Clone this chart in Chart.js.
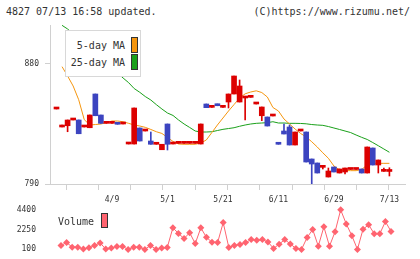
<!DOCTYPE html>
<html lang="ja">
<head>
<meta charset="UTF-8">
<title>4827 chart</title>
<script src="https://cdn.jsdelivr.net/npm/chart.js"></script>
<style>
    body {
        margin: 0;
        background: #fff;
        width: 420px;
        height: 259px;
        position: relative;
        overflow: hidden;
        font-family: 'DejaVu Sans Mono', monospace;
        color: #333;
    }
    #main { position: absolute; left: 0; top: 0; }
    #vol { position: absolute; left: 0; top: 195px; }
    .hdr { position: absolute; top: 5px; font-size: 10px; line-height: 14px; white-space: nowrap; }
    .legend {
        position: absolute; left: 65px; top: 30px;
        width: 74px; height: 45px;
        border: 1px solid #d8d8d8; background: #fff;
    }
    .legend span, .vlabel { position: absolute; font-size: 10px; line-height: 14px; white-space: nowrap; }
    .sw { position: absolute; width: 5px; height: 14px; border: 1px solid #333; }
</style>
</head>
<body>
<div class="hdr" style="left:6px">4827 07/13 16:58 updated.</div>
<div class="hdr" style="right:10px">(C)https://www.rizumu.net/</div>

<canvas id="main" width="420" height="210"></canvas>
<canvas id="vol" width="420" height="64"></canvas>

<div class="legend">
    <span style="right:15px; top:8px">5-day MA</span>
    <div class="sw" style="left:65px; top:6px; background:#f5960f"></div>
    <span style="right:15px; top:25px">25-day MA</span>
    <div class="sw" style="left:65px; top:23px; background:#1aa01a"></div>
</div>
<div class="vlabel" style="left:58px; top:215px">Volume</div>
<div class="sw" style="left:101px; top:213px; height:13px; background:#ff6470"></div>

<script>
    // 日付ラベル (ローソク足のインデックス位置)
    const dateLabels = ['4/9', '5/1', '5/21', '6/11', '6/29', '7/13'];
    const labelIdx = [10, 20, 30, 40, 50, 60];
    const priceTicks = [790, 880];
    const volumeTicks = [100, 2250, 4400];

    // 四本値
    const openP = [846.25, 832.75, 833.7, 838, 838, 832.75, 832.2, 857.5, 841.75, 835.5,
        835.5, 836, 835, 820, 820, 832, 829.75, 822.25, 819.8, 815.7,
        835, 820, 820.5, 820.5, 820.5, 820.5, 820, 850, 847.5, 850,
        847.5, 851.5, 857.5, 851.5, 854.5, 855, 850, 841.2, 840.25, 841,
        821, 829.75, 832.75, 819.25, 829.75, 829, 808.75, 805.75, 802.5, 795.25,
        802.75, 798.25, 799, 800.9, 800.9, 801.25, 798.25, 817, 804.25, 799.5,
        799.4];
    const highP = [846.25, 834.25, 838, 838, 838, 832.75, 841.75, 857.5, 841.75, 835.5,
        835.5, 836, 835, 820, 847, 832, 829.75, 829, 819.8, 819.8,
        835, 820, 820.5, 820.5, 820.5, 820.5, 835, 850, 847.5, 850,
        847.5, 857.5, 871, 868, 855.75, 855, 850, 847.75, 840.25, 841,
        821, 835, 834.25, 829, 829.75, 829, 808.75, 805.75, 802.5, 802,
        802.75, 801.25, 802, 800.9, 800.9, 801.25, 817.75, 817, 808, 802,
        802.2];
    const lowP = [846.25, 832.75, 829.2, 838, 827.7, 832.75, 832.2, 841.2, 835.5, 835.5,
        835.5, 834.8, 835, 820, 820, 822.25, 829.75, 819.8, 819.8, 815.7,
        815.5, 820, 820.5, 820.5, 820.5, 820.5, 820, 847.25, 847.5, 848.7,
        847.5, 847, 857.5, 851.5, 838, 855, 850, 837.5, 833.5, 841,
        819.8, 827.5, 819.25, 819.25, 829.75, 806.5, 790, 798.25, 801.25, 795.25,
        799, 798.25, 797.5, 800.9, 800.9, 798.25, 798.25, 804.25, 798.25, 799.5,
        796];
    const closeP = [846.25, 832.75, 838, 838, 827.7, 832.75, 841.75, 841.2, 835.5, 835.5,
        835.5, 834.8, 835, 820, 847, 822.25, 829.75, 819.8, 819.8, 819.8,
        819.8, 820, 820.5, 820.5, 820.5, 820.5, 835, 847.25, 847.5, 848.7,
        847.5, 857.5, 871, 863.5, 855.75, 855, 850, 847.75, 833.5, 841,
        819.8, 827.5, 819.25, 829, 829.75, 806.5, 805, 798.25, 802.5, 799.75,
        799, 801.25, 802, 800.9, 800.9, 798.25, 817.75, 804.25, 808, 799.5,
        799.4];

    // 移動平均 (チャートから読み取り)
    const ma5 = [null, 878, 871, 863.5, 853.2, 838.3, 834.25, 834.6, 835, 836,
        837.25, 837.25, 836.7, 835.5, 834.25, 833.5, 832.5, 830.9, 829.2, 827.9,
        824.9, 821.9, 820, 819.8, 819.8, 819.8, 820.75, 823, 828.6, 834.25,
        839.5, 844.75, 849.6, 854.5, 857.65, 859, 859.9, 858.6, 855.25, 847.4,
        844.75, 838.75, 835, 831.25, 827.9, 825.25, 821.7, 817.75, 813.4, 809.3,
        803.5, 800.65, 800.1, 800, 800, 800.9, 804.25, 805.5, 805.5, 805.5,
        805.5];
    const ma25 = [null, 909, 906.25, 902.65, 899, 895.3, 891.6, 888, 884.3, 880.6,
        876.85, 873.2, 869.5, 866, 861.6, 858.8, 855.6, 853, 849.5, 846.25,
        843.25, 841.4, 838, 835, 832.4, 829.75, 829, 829, 829.2, 830.1,
        831, 831.6, 832.2, 833.3, 834.25, 835, 835.5, 835.75, 836, 836.7,
        835.75, 835.75, 835.5, 835.5, 835.4, 835.15, 834.6, 834.25, 834, 833.1,
        832, 830.9, 829.75, 828.6, 826.75, 825, 823.4, 821.1, 818.7, 816.25,
        813.8];

    // 出来高
    const volume = [500, 820, 315, 315, 100, 240, 500, 780, 100, 210,
        390, 390, 70, 315, 315, 70, 500, 70, 210, 280,
        2430, 1820, 1250, 1900, 710, 2430, 1390, 850, 820, 3000,
        280, 500, 605, 820, 1140, 1070, 1140, 885, 175, 640,
        1140, 670, 175, 70, 1360, 2250, 420, 2540, 420, 2000,
        4400, 2860, 1570, 70, 2280, 2760, 1790, 1790, 3110, 2040];

    const monoFont = "'DejaVu Sans Mono', monospace";
    const upColor = '#dc0000';
    const downColor = '#3c44c0';
    const axisColor = '#d0d0d0';

    const candleColors = openP.map((o, i) => closeP[i] < o ? downColor : upColor);
    const bodies = openP.map((o, i) => ({ x: i, y: [o, closeP[i]] }));
    const wicks = openP.map((o, i) => ({ x: i, y: [lowP[i], highP[i]] }));
    const gridIdx = [0, 1, 2, 3, 4, 5, 6, 7, 8, 9, 10, 11];

    function noPad(s) {
        s.paddingTop = 0; s.paddingBottom = 0; s.paddingLeft = 0; s.paddingRight = 0;
    }

    new Chart(document.getElementById('main'), {
        type: 'bar',
        data: {
            datasets: [
                { type: 'bar', data: bodies, backgroundColor: candleColors, barThickness: 5,
                  minBarLength: 2, grouped: false, order: 0, xAxisID: 'x', yAxisID: 'y' },
                { type: 'bar', data: wicks, backgroundColor: candleColors, barThickness: 1,
                  minBarLength: 1, grouped: false, order: 1, xAxisID: 'x', yAxisID: 'y' },
                { type: 'line', label: '5-day MA', data: ma5.map((v, i) => ({ x: i, y: v })),
                  borderColor: '#f5960f', borderWidth: 1, pointRadius: 0, order: 2, xAxisID: 'x', yAxisID: 'y' },
                { type: 'line', label: '25-day MA', data: ma25.map((v, i) => ({ x: i, y: v })),
                  borderColor: '#1aa01a', borderWidth: 1, pointRadius: 0, order: 3, xAxisID: 'x', yAxisID: 'y' }
            ]
        },
        options: {
            responsive: false,
            animation: false,
            layout: { padding: { left: 0, top: 25, right: 15, bottom: 0 } },
            plugins: { legend: { display: false }, tooltip: { enabled: false } },
            scales: {
                x: {
                    type: 'linear', position: 'bottom', min: -1.1716, max: 62.81, offset: false, weight: 1,
                    grid: { display: false }, border: { display: false },
                    ticks: {
                        autoSkip: false, maxRotation: 0, padding: 3, color: '#333',
                        font: { family: monoFont, size: 8 },
                        callback: v => { const k = labelIdx.indexOf(v); return k < 0 ? '' : dateLabels[k]; }
                    },
                    afterBuildTicks: s => { s.ticks = labelIdx.map(v => ({ value: v })); },
                    afterFit: s => { s.height = 26; noPad(s); }
                },
                xg: {
                    type: 'linear', position: 'bottom', min: 0, max: 11, offset: false, weight: 0,
                    grid: { drawOnChartArea: false, tickLength: 6, color: axisColor },
                    border: { color: axisColor },
                    ticks: { display: false },
                    afterBuildTicks: s => { s.ticks = gridIdx.map(v => ({ value: v })); },
                    afterFit: s => { s.height = 0; noPad(s); }
                },
                y: {
                    type: 'linear', position: 'left', min: 790, max: 909.25,
                    grid: { drawOnChartArea: false, tickLength: 5, color: axisColor },
                    border: { color: axisColor },
                    ticks: { padding: 6, color: '#333', font: { family: monoFont, size: 8 },
                             callback: v => String(v) },
                    afterBuildTicks: s => { s.ticks = priceTicks.map(v => ({ value: v })); },
                    afterFit: s => { s.width = 50; noPad(s); }
                }
            }
        }
    });

    new Chart(document.getElementById('vol'), {
        type: 'line',
        data: {
            datasets: [{
                label: 'Volume',
                data: volume.map((v, i) => ({ x: i, y: v })),
                borderColor: '#ff6470', backgroundColor: '#ff6470', borderWidth: 1,
                pointStyle: 'rectRot', pointRadius: 3.5, pointBorderWidth: 0, clip: false
            }]
        },
        options: {
            responsive: false,
            animation: false,
            layout: { padding: { left: 0, top: 6, right: 15, bottom: 3 } },
            plugins: { legend: { display: false }, tooltip: { enabled: false } },
            scales: {
                x: { type: 'linear', display: false, min: -1.967, max: 61.503 },
                y: {
                    type: 'linear', min: -545, max: 5367.5,
                    grid: { display: false }, border: { display: false },
                    ticks: { padding: 6, color: '#333', font: { family: monoFont, size: 8 },
                             callback: v => String(v) },
                    afterBuildTicks: s => { s.ticks = volumeTicks.map(v => ({ value: v })); },
                    afterFit: s => { s.width = 50; noPad(s); }
                }
            }
        }
    });
</script>
</body>
</html>
